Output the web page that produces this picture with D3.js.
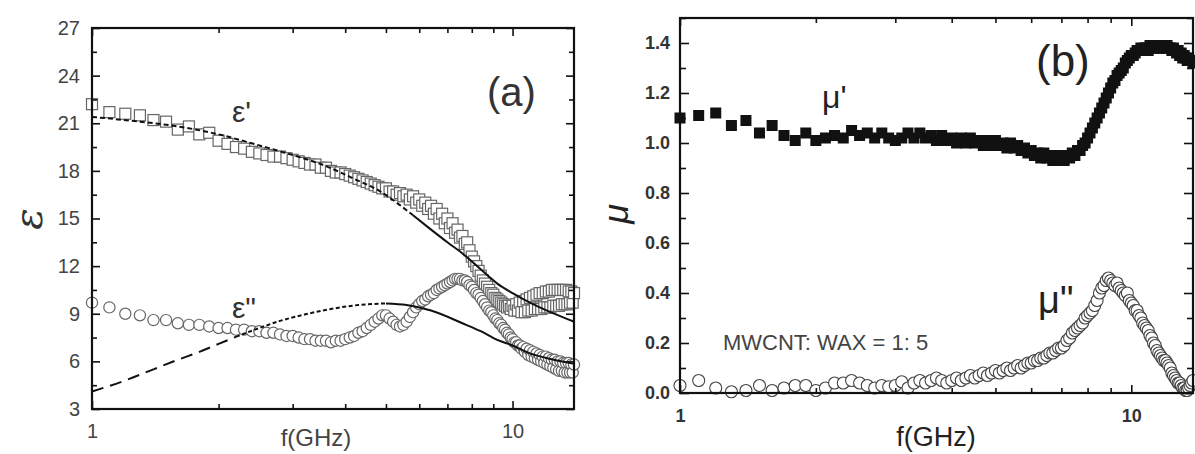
<!DOCTYPE html>
<html><head><meta charset="utf-8">
<script src="https://cdn.jsdelivr.net/npm/d3@7"></script>
<style>html,body{margin:0;padding:0;background:#fff;} svg{display:block;font-family:"Liberation Sans",Arial,sans-serif;}</style>
</head><body><svg id="c" width="1195" height="454"></svg>
<script>
// ---------- data ----------
const freqGHz = [
 1.0,1.1,1.2,1.3,1.4,1.5,1.6,1.7,1.8,1.9,
 2.0,2.1,2.2,2.3,2.4,2.5,2.6,2.7,2.8,2.9,
 3.0,3.1,3.2,3.3,3.4,3.5,3.6,3.7,3.8,3.9,
 4.0,4.1,4.2,4.3,4.4,4.5,4.6,4.7,4.8,4.9,
 5.0,5.1,5.2,5.3,5.4,5.5,5.6,5.7,5.8,5.9,
 6.0,6.1,6.2,6.3,6.4,6.5,6.6,6.7,6.8,6.9,
 7.0,7.1,7.2,7.3,7.4,7.5,7.6,7.7,7.8,7.9,
 8.0,8.1,8.2,8.3,8.4,8.5,8.6,8.7,8.8,8.9,
 9.0,9.1,9.2,9.3,9.4,9.5,9.6,9.7,9.8,9.9,
 10.0,10.1,10.2,10.3,10.4,10.5,10.6,10.7,10.8,10.9,
 11.0,11.1,11.2,11.3,11.4,11.5,11.6,11.7,11.8,11.9,
 12.0,12.1,12.2,12.3,12.4,12.5,12.6,12.7,12.8,12.9,
 13.0,13.1,13.2,13.3,13.4,13.5,13.6,13.7,13.8,13.9,
 14.0];

// panel (a): permittivity
const epsReal = [
 22.2,21.7,21.6,21.5,21.2,21.1,20.6,20.8,20.3,20.4,
 19.9,19.7,19.5,19.4,19.2,19.1,19.0,18.9,18.9,18.8,
 18.7,18.6,18.5,18.4,18.4,18.2,18.2,18.0,17.9,17.9,
 17.8,17.7,17.6,17.5,17.4,17.3,17.2,17.1,17.0,16.9,
 16.9,16.7,16.7,16.5,16.6,16.4,16.5,16.2,16.4,16.0,
 16.2,15.8,16.0,15.6,15.8,15.3,15.6,15.0,15.3,14.7,
 15.0,14.4,14.7,14.1,14.3,13.8,13.9,13.4,13.5,13.0,
 12.6,12.3,12.0,11.7,11.4,11.1,10.9,10.7,10.5,10.3,
 10.2,10.0,9.9,9.8,9.7,9.6,9.5,9.4,9.5,9.3,
 9.5,9.2,9.6,9.2,9.7,9.1,9.8,9.1,9.9,9.2,
 10.0,9.2,10.1,9.3,10.2,9.3,10.3,9.3,10.3,9.4,
 10.4,9.4,10.4,9.4,10.5,9.5,10.5,9.5,10.5,9.5,
 10.5,9.6,10.5,9.6,10.5,9.6,10.4,9.7,10.4,9.7,
 10.3];
const epsImag = [
 9.7,9.4,9.0,8.9,8.6,8.6,8.4,8.3,8.3,8.2,
 8.1,8.1,8.0,8.0,7.9,7.9,7.8,7.8,7.7,7.6,
 7.6,7.5,7.4,7.4,7.3,7.3,7.3,7.2,7.3,7.3,
 7.4,7.5,7.6,7.8,7.9,8.1,8.3,8.5,8.7,8.9,
 8.9,8.7,8.5,8.3,8.2,8.3,8.5,8.8,9.1,9.4,
 9.6,9.8,9.9,10.1,10.2,10.3,10.5,10.6,10.7,10.8,
 10.9,11.0,11.1,11.2,11.2,11.2,11.1,11.1,11.0,10.8,
 10.7,10.5,10.3,10.2,10.0,9.8,9.6,9.4,9.2,9.1,
 8.9,8.7,8.6,8.4,8.3,8.1,8.0,7.8,7.7,7.5,
 7.4,7.2,7.2,7.0,7.0,6.8,6.9,6.6,6.8,6.4,
 6.7,6.3,6.6,6.2,6.5,6.1,6.4,6.0,6.3,5.9,
 6.3,5.8,6.2,5.7,6.1,5.6,6.1,5.5,6.0,5.4,
 6.0,5.4,5.9,5.3,5.9,5.3,5.9,5.3,5.8,5.3,
 5.8];
// fitted curves
const epsRealFitF = [1,1.3,1.6,2.0,2.5,3.0,3.6,4.2,4.85,5.3,5.8,6.4,7.0,7.6,8.4,9.2,10,11,12.3,13.7,14];
const epsRealFitV = [21.4,21.1,20.8,20.3,19.6,19.0,18.3,17.5,16.7,16.0,15.2,14.3,13.5,12.8,11.8,10.9,10.3,9.7,9.1,8.6,8.5];
const epsImagFitF = [1,1.2,1.4,1.6,1.8,2.0,2.2,2.5,2.8,3.2,3.7,4.3,5.0,5.6,6.4,7.6,8.4,9.2,10,11,12.3,13.7,14];
const epsImagFitV = [4.1,4.8,5.5,6.1,6.6,7.1,7.55,8.1,8.55,8.95,9.3,9.55,9.65,9.55,9.2,8.4,7.9,7.35,7.0,6.5,6.15,5.9,5.85];

// panel (b): permeability (1.0 ... 13.7 GHz)
const muReal = [
 1.10,1.11,1.12,1.07,1.09,1.04,1.07,1.03,1.01,1.04,
 1.01,1.02,1.03,1.02,1.05,1.03,1.04,1.02,1.04,1.02,
 1.01,1.02,1.04,1.02,1.04,1.02,1.03,1.01,1.03,1.01,
 1.02,1.00,1.02,1.00,1.02,1.00,1.01,0.99,1.01,0.99,
 1.01,0.99,1.00,0.98,1.00,0.98,0.99,0.97,0.98,0.96,
 0.97,0.95,0.96,0.94,0.96,0.94,0.95,0.93,0.95,0.93,
 0.95,0.93,0.95,0.94,0.96,0.95,0.97,0.97,0.99,1.00,
 1.02,1.04,1.06,1.08,1.10,1.12,1.14,1.16,1.18,1.20,
 1.22,1.24,1.25,1.27,1.28,1.29,1.30,1.32,1.33,1.34,
 1.35,1.35,1.36,1.37,1.37,1.38,1.37,1.38,1.38,1.37,
 1.39,1.38,1.38,1.39,1.38,1.38,1.39,1.38,1.38,1.38,
 1.39,1.38,1.38,1.37,1.38,1.37,1.36,1.37,1.35,1.36,
 1.34,1.35,1.34,1.33,1.34,1.33,1.33,1.32];
const muImag = [
 0.03,0.05,0.02,0.005,0.01,0.03,0.01,0.02,0.03,0.03,
 0.01,0.02,0.04,0.04,0.05,0.04,0.03,0.02,0.03,0.025,
 0.03,0.045,0.02,0.04,0.05,0.04,0.05,0.06,0.05,0.04,
 0.05,0.06,0.05,0.06,0.07,0.06,0.07,0.08,0.07,0.08,
 0.09,0.08,0.09,0.10,0.09,0.10,0.11,0.10,0.11,0.12,
 0.12,0.13,0.13,0.14,0.14,0.15,0.16,0.16,0.17,0.18,
 0.18,0.19,0.21,0.22,0.24,0.25,0.26,0.27,0.28,0.30,
 0.31,0.32,0.33,0.35,0.37,0.40,0.42,0.43,0.45,0.46,
 0.45,0.44,0.43,0.44,0.42,0.41,0.40,0.39,0.40,0.37,
 0.36,0.35,0.33,0.33,0.31,0.30,0.28,0.27,0.26,0.25,
 0.23,0.22,0.20,0.19,0.17,0.16,0.15,0.14,0.13,0.13,
 0.12,0.11,0.10,0.08,0.07,0.06,0.05,0.04,0.04,0.03,
 0.02,0.02,0.01,0.01,0.02,0.03,0.04,0.05];

const xTicksMajor = [1,10];
const xTicksMinor = [2,3,4,5,6,7,8,9];
const epsTicks = [3,6,9,12,15,18,21,24,27];
const epsMinor = [4.5,7.5,10.5,13.5,16.5,19.5,22.5,25.5];
const muTicks = [0,0.2,0.4,0.6,0.8,1.0,1.2,1.4];
const muMinor = [0.1,0.3,0.5,0.7,0.9,1.1,1.3,1.5];

// ---------- drawing ----------
const svg = d3.select("#c");

function tickGroup(g, gen, vals, size, pad, fmt, font){
  g.call(gen.tickValues(vals).tickSizeInner(-size).tickSizeOuter(0).tickPadding(pad)
    .tickFormat(fmt || (() => "")));
  g.select(".domain").remove();
  g.selectAll(".tick line").attr("stroke","#111").attr("stroke-width",1.6);
  g.selectAll(".tick text").attr("font-family","'Liberation Sans',Arial,sans-serif")
    .attr("font-size",font.size).attr("font-weight",font.weight).attr("fill",font.fill);
}

// ===== Panel (a) =====
const xA = d3.scaleLog().domain([1,14]).range([92,574]);
const yA = d3.scaleLinear().domain([3,27]).range([409,28]);
const fa = {size:20, weight:"normal", fill:"#444"};
const gA = svg.append("g");

// markers
gA.append("g").selectAll("rect").data(epsReal).join("rect")
  .attr("x",(d,i)=>xA(freqGHz[i])-5.5).attr("y",d=>yA(d)-5.5)
  .attr("width",11).attr("height",11)
  .attr("fill","#fff").attr("stroke","#666").attr("stroke-width",1.2);
gA.append("g").selectAll("circle").data(epsImag).join("circle")
  .attr("cx",(d,i)=>xA(freqGHz[i])).attr("cy",d=>yA(d)).attr("r",5.6)
  .attr("fill","#fff").attr("stroke","#666").attr("stroke-width",1.2);

// fit curves
const lineA = d3.line().x(d=>xA(d[0])).y(d=>yA(d[1])).curve(d3.curveMonotoneX);
const realFit = epsRealFitF.map((f,i)=>[f,epsRealFitV[i]]);
const imagFit = epsImagFitF.map((f,i)=>[f,epsImagFitV[i]]);
function seg(arr, lo, hi){ return arr.filter(p=>p[0]>=lo && p[0]<=hi); }
gA.append("path").attr("d",lineA(seg(realFit,1,5.8))).attr("fill","none")
  .attr("stroke","#111").attr("stroke-width",2).attr("stroke-dasharray","5,3");
gA.append("path").attr("d",lineA(seg(realFit,5.8,14))).attr("fill","none")
  .attr("stroke","#111").attr("stroke-width",2);
gA.append("path").attr("d",lineA(seg(imagFit,1,2.2))).attr("fill","none")
  .attr("stroke","#111").attr("stroke-width",2).attr("stroke-dasharray","12,7");
gA.append("path").attr("d",lineA(seg(imagFit,2.2,5.0))).attr("fill","none")
  .attr("stroke","#111").attr("stroke-width",2).attr("stroke-dasharray","4,2.5");
gA.append("path").attr("d",lineA(seg(imagFit,5.0,14))).attr("fill","none")
  .attr("stroke","#111").attr("stroke-width",2);

// axes (a)
tickGroup(gA.append("g").attr("transform","translate(0,409)"), d3.axisBottom(xA), xTicksMajor, 8, 15, d=>String(d), fa);
tickGroup(gA.append("g").attr("transform","translate(0,409)"), d3.axisBottom(xA), xTicksMinor, 5, 3, null, fa);
tickGroup(gA.append("g").attr("transform","translate(0,28)"), d3.axisTop(xA), xTicksMajor, 8, 3, null, fa);
tickGroup(gA.append("g").attr("transform","translate(0,28)"), d3.axisTop(xA), xTicksMinor, 5, 3, null, fa);
tickGroup(gA.append("g").attr("transform","translate(92,0)"), d3.axisLeft(yA), epsTicks, 8, 12, d=>String(d), fa);
tickGroup(gA.append("g").attr("transform","translate(92,0)"), d3.axisLeft(yA), epsMinor, 5, 3, null, fa);
tickGroup(gA.append("g").attr("transform","translate(574,0)"), d3.axisRight(yA), epsTicks, 8, 3, null, fa);
tickGroup(gA.append("g").attr("transform","translate(574,0)"), d3.axisRight(yA), epsMinor, 5, 3, null, fa);
gA.append("rect").attr("x",92).attr("y",28).attr("width",482).attr("height",381)
  .attr("fill","none").attr("stroke","#111").attr("stroke-width",2.2);

gA.append("text").attr("x",316).attr("y",446).attr("text-anchor","middle")
  .attr("font-size",24).attr("fill","#444").text("f(GHz)");
gA.append("text").attr("transform","translate(42,219) rotate(-90)").attr("text-anchor","middle")
  .attr("font-family","'DejaVu Serif',serif").attr("font-style","italic")
  .attr("font-size",40).attr("fill","#333").text("ε");
gA.append("text").attr("x",487).attr("y",106).attr("font-size",40).attr("fill","#333").text("(a)");
gA.append("text").attr("x",232).attr("y",122).attr("font-size",30).attr("fill","#333").text("ε'");
gA.append("text").attr("x",232).attr("y",318).attr("font-size",30).attr("fill","#333").text("ε\"");

// ===== Panel (b) =====
const xB = d3.scaleLog().domain([1,13.7]).range([680,1193]);
const yB = d3.scaleLinear().domain([0,1.5]).range([393,18]);
const fb = {size:18, weight:"bold", fill:"#333"};
const gB = svg.append("g");
const fB = freqGHz.slice(0, muReal.length);

gB.append("g").selectAll("circle").data(muImag).join("circle")
  .attr("cx",(d,i)=>xB(fB[i])).attr("cy",d=>yB(d)).attr("r",6)
  .attr("fill","#fff").attr("stroke","#444").attr("stroke-width",1.1);
gB.append("g").selectAll("rect").data(muReal).join("rect")
  .attr("x",(d,i)=>xB(fB[i])-5.5).attr("y",d=>yB(d)-5.5)
  .attr("width",11).attr("height",11).attr("fill","#111");

tickGroup(gB.append("g").attr("transform","translate(0,393)"), d3.axisBottom(xB), xTicksMajor, 8, 16, d=>String(d), fb);
tickGroup(gB.append("g").attr("transform","translate(0,393)"), d3.axisBottom(xB), xTicksMinor, 5, 3, null, fb);
tickGroup(gB.append("g").attr("transform","translate(0,18)"), d3.axisTop(xB), xTicksMajor, 8, 3, null, fb);
tickGroup(gB.append("g").attr("transform","translate(0,18)"), d3.axisTop(xB), xTicksMinor, 5, 3, null, fb);
tickGroup(gB.append("g").attr("transform","translate(680,0)"), d3.axisLeft(yB), muTicks, 9, 10, d3.format(".1f"), fb);
tickGroup(gB.append("g").attr("transform","translate(680,0)"), d3.axisLeft(yB), muMinor, 6, 3, null, fb);
tickGroup(gB.append("g").attr("transform","translate(1193,0)"), d3.axisRight(yB), muTicks, 9, 3, null, fb);
tickGroup(gB.append("g").attr("transform","translate(1193,0)"), d3.axisRight(yB), muMinor, 6, 3, null, fb);
gB.append("rect").attr("x",680).attr("y",18).attr("width",513).attr("height",375)
  .attr("fill","none").attr("stroke","#111").attr("stroke-width",2.2);

gB.append("text").attr("x",936).attr("y",446).attr("text-anchor","middle")
  .attr("font-size",27).attr("fill","#222").text("f(GHz)");
gB.append("text").attr("transform","translate(628,214) rotate(-90)").attr("text-anchor","middle")
  .attr("font-style","italic").attr("font-size",36).attr("fill","#222").text("μ");
gB.append("text").attr("x",1036).attr("y",76).attr("font-size",44).attr("fill","#222").text("(b)");
gB.append("text").attr("x",822).attr("y",108).attr("font-size",32).attr("fill","#222").text("μ'");
gB.append("text").attr("x",1038).attr("y",313).attr("font-size",38).attr("fill","#222").text("μ\"");
gB.append("text").attr("x",723).attr("y",350).attr("font-size",22).attr("fill","#444").text("MWCNT: WAX = 1: 5");
</script></body></html>
